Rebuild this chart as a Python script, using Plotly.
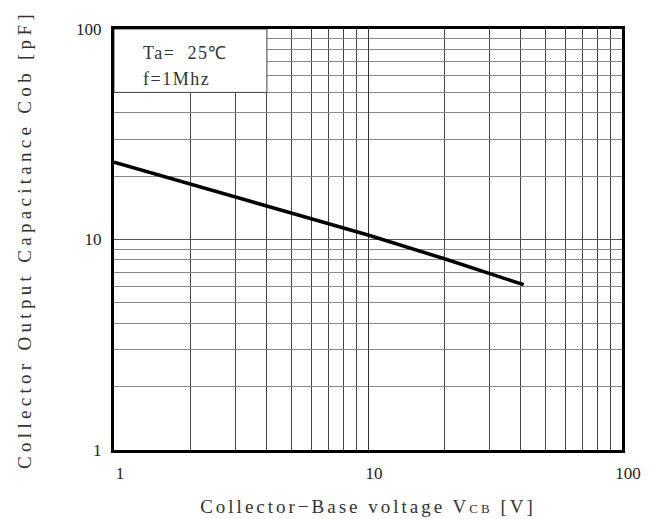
import plotly.graph_objects as go

# Data
vcb = [1, 2, 3, 4, 6, 10, 20, 30, 41]
cob = [23.3, 18.3, 15.9, 14.4, 12.6, 10.5, 8.1, 6.9, 6.1]

x_tickvals = [1, 10, 100]
x_ticktext = ["1", "10", "100"]
y_tickvals = [1, 10, 100]
y_ticktext = ["1", "10", "100"]

FONT = "Liberation Serif"

def spaced(s, px):
    return f"<span style='letter-spacing:{px}px'>{s}</span>"

fig = go.Figure()
fig.add_trace(go.Scatter(
    x=vcb, y=cob, mode="lines",
    line=dict(color="black", width=3.5),
    hoverinfo="skip", showlegend=False,
))

# white legend box covering grid in upper-left region
fig.add_shape(type="rect", xref="x", yref="y", x0=1, x1=4, y0=50, y1=100,
              fillcolor="white", line=dict(color="#444", width=1), layer="between")

fig.add_annotation(xref="paper", yref="paper", x=0.053, y=0.944,
                   xanchor="left", yanchor="middle", showarrow=False,
                   text=spaced("Ta=  25℃", 1.5), font=dict(family=FONT, size=18, color="#333"))
fig.add_annotation(xref="paper", yref="paper", x=0.053, y=0.881,
                   xanchor="left", yanchor="middle", showarrow=False,
                   text=spaced("f=1Mhz", 1.5), font=dict(family=FONT, size=18, color="#333"))

axis_common = dict(
    type="log",
    showline=True, mirror=True, linecolor="black", linewidth=3,
    ticks="", showgrid=True, gridwidth=1,
    tickfont=dict(family=FONT, size=17, color="#222"),
    zeroline=False,
)

fig.update_xaxes(
    **axis_common,
    range=[0, 2],
    tickvals=x_tickvals, ticktext=x_ticktext,
    gridcolor="#333",
    minor=dict(showgrid=True, gridcolor="#444", gridwidth=1, dtick="D1"),
    ticklabelshift=6,
    ticklabelstandoff=6,
    title=dict(text=spaced("Collector−Base voltage V<span style='font-size:13px'>CB</span> [V]", 3),
               font=dict(family=FONT, size=19, color="#333"), standoff=18),
)
fig.update_yaxes(
    **axis_common,
    range=[0, 2],
    tickvals=y_tickvals, ticktext=y_ticktext,
    gridcolor="#555",
    minor=dict(showgrid=True, gridcolor="#888", gridwidth=1, dtick="D1"),
    ticklabelstandoff=6,
    title=dict(text=spaced("Collector Output Capacitance Cob [pF]", 4.3),
               font=dict(family=FONT, size=19, color="#333"), standoff=40),
)

fig.update_layout(
    width=650, height=519,
    margin=dict(l=106, r=36, t=19, b=70),
    plot_bgcolor="white", paper_bgcolor="white",
    showlegend=False,
)

fig.write_html("out.html")
